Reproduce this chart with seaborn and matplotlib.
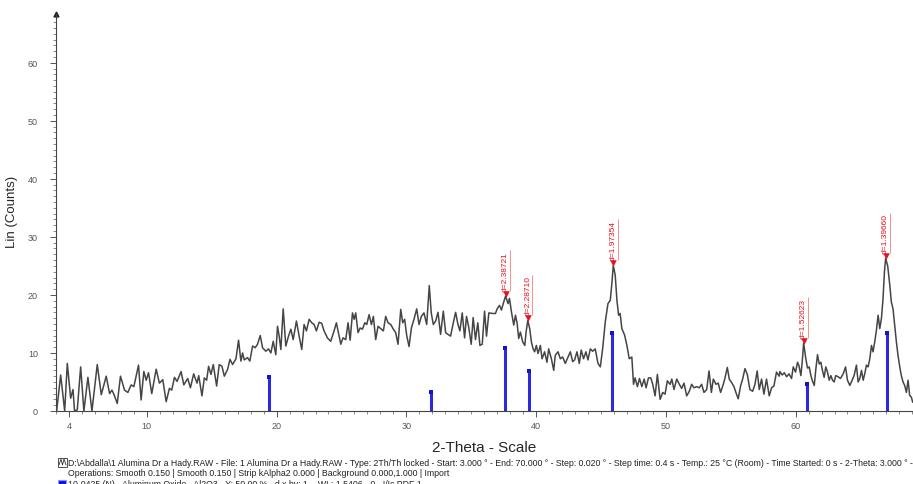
import matplotlib
matplotlib.use("Agg")
import matplotlib.pyplot as plt
import seaborn as sns
import pandas as pd
from matplotlib.patches import Rectangle
from matplotlib.lines import Line2D

# measured pattern (2-theta in degrees, Lin counts)
two_theta = [
    3.05, 3.36, 3.67, 3.87, 4.13, 4.31, 4.43, 4.64, 4.90, 5.15, 5.46, 5.77, 6.18, 6.49, 6.87, 7.13,
    7.31, 7.46, 7.72, 7.97, 8.28, 8.54, 8.79, 9.00, 9.36, 9.56, 9.77, 9.95, 10.13, 10.38, 10.72, 10.97,
    11.23, 11.49, 11.74, 11.92, 12.13, 12.33, 12.64, 12.85, 13.15, 13.36, 13.61, 13.87,
    14.00, 14.25, 14.43, 14.61, 14.76, 14.94, 15.12, 15.38, 15.58, 15.79, 15.97, 16.23, 16.41, 16.61,
    16.87, 17.07, 17.25, 17.38, 17.51, 17.76, 17.94, 18.15, 18.35, 18.53, 18.74, 18.92, 19.17, 19.38,
    19.56, 19.74, 19.94, 20.07, 20.20, 20.33, 20.51, 20.71, 20.92, 21.10, 21.28, 21.53, 21.74, 21.94,
    22.12, 22.30, 22.51, 22.71, 22.89, 23.07, 23.28, 23.48, 23.66, 23.92, 24.17, 24.43, 24.61, 24.82,
    24.95, 25.12,
    25.33, 25.51, 25.67, 25.85, 25.98, 26.10, 26.28, 26.44, 26.62, 26.80, 26.95, 27.13, 27.31, 27.46,
    27.64, 27.82, 28.03, 28.23, 28.41, 28.59, 28.80, 29.00, 29.18, 29.36, 29.57, 29.72, 29.87, 30.03,
    30.21, 30.39, 30.59, 30.80, 30.98, 31.16, 31.36, 31.57, 31.77, 31.92, 32.08, 32.26, 32.44, 32.64,
    32.85, 33.03, 33.21, 33.41, 33.62, 33.80, 33.98, 34.13, 34.31, 34.49, 34.64, 34.82, 35.00, 35.15,
    35.33, 35.51, 35.67, 35.85, 36.03, 36.18, 36.36,
    36.66, 36.87, 37.00, 37.18, 37.33, 37.51, 37.65, 37.84, 37.95, 38.10, 38.28, 38.41, 38.54, 38.66,
    38.79, 38.97, 39.13, 39.23, 39.36, 39.51, 39.64, 39.77, 39.89, 40.02, 40.15, 40.33, 40.46, 40.66,
    40.84, 40.97, 41.18, 41.36, 41.48, 41.69, 41.87, 42.05, 42.25, 42.46, 42.64, 42.82, 42.97, 43.15,
    43.33, 43.48, 43.66, 43.84, 44.00, 44.18, 44.36, 44.56, 44.77, 44.95, 45.13, 45.33, 45.54, 45.72,
    45.85, 45.95, 46.10, 46.23, 46.36, 46.48, 46.61, 46.82, 47.00, 47.18, 47.38,
    47.51, 47.63, 47.81, 47.97, 48.15, 48.33, 48.48, 48.66, 48.84, 48.99, 49.17, 49.35, 49.56, 49.76,
    49.94, 50.12, 50.33, 50.46, 50.63, 50.84, 51.04, 51.22, 51.40, 51.61, 51.81, 51.99, 52.17, 52.38,
    52.58, 52.76, 52.94, 53.15, 53.33, 53.51, 53.66, 53.87, 54.04, 54.22, 54.43, 54.56, 54.74, 54.89,
    55.07, 55.25, 55.40, 55.58, 55.76, 55.92, 56.10, 56.28, 56.48, 56.69, 56.87, 57.04, 57.20, 57.38,
    57.56, 57.76, 57.97, 58.15, 58.33, 58.53, 58.74,
    58.79, 58.97, 59.13, 59.31, 59.49, 59.69, 59.82, 60.00, 60.15, 60.26, 60.41, 60.52, 60.62, 60.79,
    60.92, 61.05, 61.18, 61.28, 61.44, 61.56, 61.69, 61.82, 61.95, 62.05, 62.20, 62.33, 62.46, 62.59,
    62.72, 62.85, 62.97, 63.10, 63.28, 63.46, 63.67, 63.85, 64.00, 64.18, 64.36, 64.51, 64.69, 64.82,
    64.95, 65.08, 65.21, 65.33, 65.46, 65.59, 65.72, 65.85, 65.97, 66.10, 66.23, 66.36, 66.49, 66.62,
    66.74, 66.85, 66.94, 67.10, 67.26, 67.38, 67.51, 67.64, 67.77, 67.90, 68.03, 68.15, 68.28, 68.41,
    68.54, 68.67, 68.79, 68.92, 69.03,
]
counts = [
    0.0, 6.2, 0.0, 8.2, 2.2, 3.7, 0.0, 0.2, 7.6, 0.0, 5.8, 0.0, 8.0, 2.8, 6.0, 3.0,
    3.6, 2.9, 1.3, 6.0, 3.6, 3.2, 4.5, 4.2, 7.9, 1.9, 6.8, 5.3, 6.6, 3.0, 7.2, 4.8,
    5.4, 1.6, 3.9, 3.6, 5.8, 5.1, 6.8, 4.5, 5.6, 4.0, 6.4, 4.8,
    6.1, 2.6, 5.7, 5.3, 7.7, 6.3, 8.0, 4.3, 8.0, 7.7, 6.0, 7.2, 8.9, 8.0,
    9.0, 12.2, 8.6, 10.0, 8.8, 9.2, 8.6, 11.2, 10.9, 11.5, 13.0, 10.9, 10.3, 10.7,
    10.0, 12.0, 9.7, 14.6, 12.9, 10.6, 17.6, 11.2, 12.9, 14.1, 12.3, 15.5, 12.9, 10.6,
    14.9, 13.8, 15.8, 15.2, 14.9, 13.8, 15.3, 15.1, 13.8, 12.6, 12.0, 13.8, 15.2, 12.9,
    11.5, 12.6,
    12.3, 15.2, 12.2, 16.9, 15.8, 16.9, 13.5, 14.3, 14.1, 15.2, 14.9, 16.6, 14.9, 16.3,
    12.3, 14.6, 14.2, 13.8, 16.3, 15.2, 14.9, 14.1, 13.5, 11.5, 17.5, 15.2, 15.8, 13.0,
    11.1, 14.3, 15.8, 17.6, 14.9, 16.3, 16.9, 14.9, 21.6, 16.9, 14.9, 15.5, 17.0, 13.2,
    17.2, 13.5, 13.2, 12.9, 15.2, 17.0, 14.9, 13.8, 16.9, 12.6, 16.3, 14.3, 11.5, 16.1,
    12.3, 15.2, 11.3, 11.5, 17.2, 12.9, 16.9,
    16.8, 16.8, 17.6, 18.2, 17.4, 18.8, 19.8, 18.5, 19.4, 17.1, 14.8, 16.5, 15.1, 12.5,
    13.6, 11.9, 11.3, 13.6, 15.6, 14.2, 11.9, 10.7, 10.2, 11.3, 9.9, 11.3, 9.0, 10.2,
    8.4, 10.7, 9.0, 7.0, 9.6, 10.2, 9.0, 9.3, 8.2, 9.3, 10.2, 8.5, 8.8, 10.2,
    8.2, 10.5, 9.0, 10.2, 8.8, 10.7, 10.3, 10.7, 8.2, 7.6, 10.7, 15.3, 18.5, 19.1,
    22.2, 25.1, 23.4, 19.1, 16.5, 16.8, 14.2, 13.1, 11.3, 9.0, 9.3,
    4.6, 5.7, 4.2, 5.6, 4.2, 5.5, 4.0, 5.7, 5.7, 4.6, 2.6, 6.3, 2.0, 3.2,
    2.9, 5.2, 4.6, 5.5, 3.7, 5.5, 4.6, 3.9, 4.8, 2.6, 3.4, 4.6, 4.0, 4.2,
    4.0, 4.6, 3.2, 3.7, 6.9, 3.2, 5.5, 4.6, 4.8, 3.2, 4.6, 5.7, 7.5, 5.5,
    4.9, 4.2, 3.2, 2.1, 4.3, 5.5, 7.3, 6.3, 3.7, 3.4, 4.6, 6.9, 3.7, 5.5,
    2.9, 5.5, 2.6, 4.0, 4.3, 6.7, 6.0,
    6.8, 6.2, 6.6, 5.9, 6.4, 5.6, 7.6, 6.7, 8.4, 7.8, 6.1, 8.7, 11.7, 9.0,
    7.4, 7.6, 6.1, 5.3, 4.4, 7.2, 9.7, 8.1, 8.4, 7.2, 5.8, 7.6, 6.7, 5.3,
    6.1, 5.3, 5.0, 6.1, 5.9, 5.6, 6.4, 7.6, 5.3, 4.4, 5.3, 6.1, 7.9, 5.0,
    5.6, 7.0, 5.3, 6.4, 7.9, 7.6, 9.0, 11.3, 10.2, 11.9, 13.9, 16.5, 14.2, 16.0,
    19.4, 24.0, 26.3, 25.0, 21.7, 18.8, 17.6, 14.8, 11.9, 9.5, 7.6, 6.1, 5.0, 4.4,
    3.2, 5.3, 2.7, 2.4, 1.5,
]

# peak search results
peak_theta = [37.65, 39.36, 45.95, 60.62, 66.94]
peak_counts = [19.8, 15.6, 25.1, 11.7, 26.3]
peak_labels = ["d=2.38721", "d=2.28710", "d=1.97354", "d=1.52623", "d=1.39660"]

# reference pattern 10-0425 Aluminum Oxide
ref_theta = [19.45, 31.94, 37.60, 39.49, 45.86, 60.90, 67.03]
ref_height = [5.9, 3.3, 10.9, 6.9, 13.4, 4.6, 13.4]

x_ticks = [4, 10, 20, 30, 40, 50, 60]
y_ticks = [0, 10, 20, 30, 40, 50, 60]

footer = [
    "D:\\Abdalla\\1 Alumina Dr a Hady.RAW - File: 1 Alumina Dr a Hady.RAW - Type: 2Th/Th locked - Start: 3.000 ° - End: 70.000 ° - Step: 0.020 ° - Step time: 0.4 s - Temp.: 25 °C (Room) - Time Started: 0 s - 2-Theta: 3.000 ° -",
    "Operations: Smooth 0.150 | Smooth 0.150 | Strip kAlpha2 0.000 | Background 0.000,1.000 | Import",
    "10-0425 (N) - Aluminum Oxide - Al2O3 - Y: 50.00 % - d x by: 1. - WL: 1.5406 - 0 - I/Ic PDF 1. -",
]

sns.set_style("ticks")
plt.rcParams["font.family"] = ["Liberation Sans", "DejaVu Sans"]

df = pd.DataFrame({"two_theta": two_theta, "counts": counts})

fig = plt.figure(figsize=(9.13, 4.85), dpi=100)
ax = fig.add_axes([56 / 913, 73 / 485, 1 - 56 / 913, 397 / 485])

sns.lineplot(data=df, x="two_theta", y="counts", ax=ax, estimator=None, sort=False,
             color="#454545", lw=1.1)

# reference sticks
ax.vlines(ref_theta, 0, ref_height, color="#2b2bdd", lw=2.2, zorder=3)
ax.scatter(ref_theta, ref_height, marker="s", s=12, color="#1515c8", zorder=4, linewidths=0)

# peak markers and labels
for t, c, lab in zip(peak_theta, peak_counts, peak_labels):
    ax.scatter([t], [c + 0.35], marker="v", s=22, color="#e8101a", zorder=5, linewidths=0)
    ax.vlines(t + 0.33, c + 0.9, c + 7.9, color="#f08080", lw=0.6, zorder=4)
    ax.text(t, c + 0.9, lab, rotation=90, ha="center", va="bottom", fontsize=6,
            color="#e8101a", zorder=5)

ax.set_xlim(3, 69.05)
ax.set_ylim(0, 68.4)
ax.set_xticks(x_ticks)
ax.set_xticklabels([str(v) for v in x_ticks])
ax.set_xticks(range(3, 70), minor=True)
ax.set_yticks(y_ticks)
ax.set_yticks(range(0, 69), minor=True)
ax.tick_params(axis="both", which="major", length=4, width=0.7, color="#555555",
               labelsize=6.5, labelcolor="#555555")
ax.tick_params(axis="both", which="minor", length=2.2, width=0.6, color="#777777")
ax.tick_params(axis="x", which="major", pad=3.5)
ax.tick_params(axis="y", which="major", pad=9)
sns.despine(ax=ax)
ax.spines["left"].set_color("#444444")
ax.spines["bottom"].set_color("#444444")
ax.spines["left"].set_linewidth(0.8)
ax.spines["bottom"].set_linewidth(0.8)
ax.plot([3], [68.4], marker="^", ms=3.5, color="#222222", clip_on=False)

ax.set_xlabel("")
ax.set_ylabel("")
fig.text(484 / 913, 1 - 448 / 485, "2-Theta - Scale", ha="center", va="center", fontsize=11)
fig.text(12 / 913, 1 - 212 / 485, "Lin (Counts)", rotation=90, ha="center", va="center",
         fontsize=9.5)

# footer
for i, line in enumerate(footer):
    fig.text(68 / 913, 1 - (463 + 11 * i) / 485, line, ha="left", va="center", fontsize=6.3,
             color="#222222")
# file icon and pattern icon
fig.patches.append(Rectangle((58 / 913, 1 - 468 / 485), 9 / 913, 9 / 485, transform=fig.transFigure,
                             fill=False, ec="#333333", lw=0.6))
fig.lines.append(Line2D([59 / 913, 61 / 913, 62.5 / 913, 64 / 913, 66 / 913],
                        [1 - 466 / 485, 1 - 460 / 485, 1 - 466 / 485, 1 - 460 / 485, 1 - 466 / 485],
                        transform=fig.transFigure, color="#333333", lw=0.6))
fig.patches.append(Rectangle((58 / 913, 1 - 489 / 485), 8 / 913, 8 / 485, transform=fig.transFigure,
                             fc="#1010e0", ec="#9090ff", lw=0.8))

fig.savefig("out.png", dpi=100)
